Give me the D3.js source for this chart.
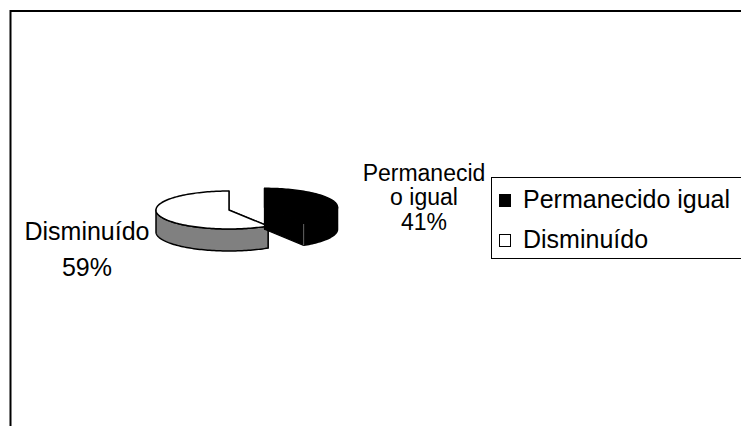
<!DOCTYPE html>
<html>
<head>
<meta charset="utf-8">
<script src="https://cdn.jsdelivr.net/npm/d3@7"></script>
<style>
  html, body { margin: 0; padding: 0; background: #fff; }
  svg { display: block; }
  text { font-family: "Liberation Sans", Arial, sans-serif; fill: #000; }
</style>
</head>
<body>
<svg id="chart" width="741" height="426"></svg>
<script>
// Data
const categories = ["Permanecido igual", "Disminuído"];
const values = [41, 59];
const percentLabels = ["41%", "59%"];
const sliceLabelLines = [["Permanecid", "o igual"], ["Disminuído"]];

const topColors = ["#000000", "#ffffff"];
const sideColors = ["#000000", "#808080"];

const svg = d3.select("#chart");
const W = 741, H = 426;

// Chart frame (top and left edges of the chart area)
svg.append("path")
  .attr("d", `M10.5,${H} L10.5,11 L${W},11`)
  .attr("fill", "none").attr("stroke", "#000").attr("stroke-width", 2);

// Pseudo-3D pie geometry
const cx = 229, cy = 210, rx = 73, ry = 19, depth = 22;
const explode = [37, 0];   // radial pull-out for each slice

const pie = d3.pie().sort(null).value(d => d);
const arcs = pie(values);

function pt(c, a, dy = 0) {
  return [c[0] + rx * Math.sin(a), c[1] - ry * Math.cos(a) + dy];
}

function ellipseArc(c, a0, a1, dy) {
  const pts = [];
  const n = Math.max(8, Math.ceil(Math.abs(a1 - a0) / 0.03));
  for (let i = 0; i <= n; i++) {
    const a = a0 + (a1 - a0) * i / n;
    pts.push(pt(c, a, dy));
  }
  return pts;
}

const line = d3.line();
const g = svg.append("g");

// draw slices back to front: grey slice first, exploded black slice over it
[1, 0].forEach(i => {
  const d = arcs[i];
  const mid = (d.startAngle + d.endAngle) / 2;
  const off = explode[i];
  const c = [cx + off * Math.sin(mid), cy - off * Math.cos(mid) * (ry / rx)];
  const sg = g.append("g");

  // radial side faces
  [d.startAngle, d.endAngle].forEach(a => {
    const p = pt(c, a);
    const face = [c, p, [p[0], p[1] + depth], [c[0], c[1] + depth]];
    sg.append("path").attr("d", line(face) + "Z")
      .attr("fill", sideColors[i]).attr("stroke", "#000").attr("stroke-width", 1.2)
      .attr("stroke-linejoin", "round");
  });

  // outer wall: only the front half (angles between PI/2 and 3PI/2)
  const w0 = Math.max(d.startAngle, Math.PI / 2);
  const w1 = Math.min(d.endAngle, 3 * Math.PI / 2);
  if (w1 > w0) {
    const topEdge = ellipseArc(c, w0, w1, 0);
    const botEdge = ellipseArc(c, w1, w0, depth);
    sg.append("path").attr("d", line(topEdge.concat(botEdge)) + "Z")
      .attr("fill", sideColors[i]).attr("stroke", "#000").attr("stroke-width", 1.5)
      .attr("stroke-linejoin", "round");
    if (i === 0) {
      // edge where the cut face meets the outer wall
      const p = pt(c, w1);
      sg.append("line")
        .attr("x1", p[0]).attr("y1", p[1]).attr("x2", p[0]).attr("y2", p[1] + depth)
        .attr("stroke", "#666").attr("stroke-width", 1);
    }
  }

  // top face
  const topPts = [c].concat(ellipseArc(c, d.startAngle, d.endAngle, 0));
  sg.append("path").attr("d", line(topPts) + "Z")
    .attr("fill", topColors[i]).attr("stroke", "#000").attr("stroke-width", 1.5)
    .attr("stroke-linejoin", "round");
});

// Slice labels
const lab1 = svg.append("text").attr("text-anchor", "middle").style("font-size", "23px");
sliceLabelLines[0].concat([percentLabels[0]]).forEach((t, k) => {
  lab1.append("tspan").attr("x", 424).attr("y", 180.5 + k * 24.5).text(t);
});
const lab2 = svg.append("text").attr("text-anchor", "middle").style("font-size", "25px");
sliceLabelLines[1].concat([percentLabels[1]]).forEach((t, k) => {
  lab2.append("tspan").attr("x", 87).attr("y", 240 + k * 36).text(t);
});

// Legend
const lg = svg.append("g");
lg.append("rect").attr("x", 491.5).attr("y", 177.5).attr("width", 260).attr("height", 81)
  .attr("fill", "#fff").attr("stroke", "#000").attr("stroke-width", 1);
categories.forEach((cat, i) => {
  const y = 208 + i * 40;
  lg.append("rect").attr("x", 499.5).attr("y", y - 13.5).attr("width", 11).attr("height", 12)
    .attr("fill", topColors[i]).attr("stroke", "#000").attr("stroke-width", 1);
  lg.append("text").attr("x", 523).attr("y", y).style("font-size", "25px").text(cat);
});
</script>
</body>
</html>
